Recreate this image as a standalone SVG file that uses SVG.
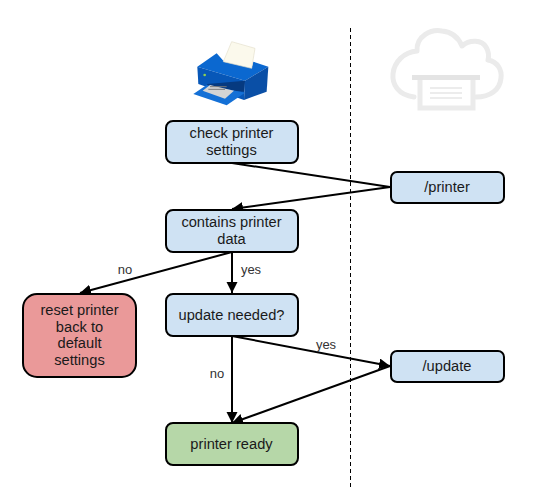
<svg xmlns="http://www.w3.org/2000/svg" width="549" height="500" viewBox="0 0 549 500">
<defs>
<style>
.n{stroke:#000;stroke-width:2}
.b{fill:#cfe2f3}
text{font-family:"Liberation Sans",Arial,sans-serif;font-size:14.67px;fill:#1a1a1a;text-anchor:middle}
.l{font-size:13px;fill:#333}
.c{fill:none;stroke:#000;stroke-width:2}
.a{marker-end:url(#ah)}
.cl{fill:none;stroke:#ebebeb;stroke-width:5;stroke-linejoin:round;stroke-linecap:round}
</style>
<marker id="ah" markerUnits="userSpaceOnUse" markerWidth="12" markerHeight="12" refX="11" refY="5.500" orient="auto"><path d="M0 0L11 5.500L0 11Z" fill="#000"/></marker>
</defs>
<rect width="549" height="500" fill="#fff"/>
<g id="printer-icon" transform="translate(170 20) scale(.3333)">
<path d="M82 140L140 100L160 122L245 143L250 125L295 140L225 182Z" fill="#0b68d0"/>
<path d="M82 140L225 182L222 240L85 192Z" fill="#0757b8"/>
<path d="M225 182L295 140L290 215L222 240Z" fill="#0a4fa6"/>
<path d="M112 192L225 182L222 215L110 205Z" fill="#063a80"/>
<path d="M70 222L110 195L225 218L170 256Z" fill="#1470d6"/>
<path d="M98 212L120 195L192 212L165 236Z" fill="#d4d4d4"/>
<path d="M120 200H170M115 208H165" stroke="#777" stroke-width="3" fill="none"/>
<path d="M185 65L255 85L245 145L160 125Z" fill="#fbf9ec" stroke="#e4e0cc" stroke-width="2"/>
<circle cx="104" cy="165" r="4" fill="#8fd14f"/>
</g>
<g id="cloud-icon">
<path class="cl" d="M414 97C398 95 392 84 393 74C394 62 404 52 417 51C416 36 431 29 442 31C453 32 459 39 462 46C470 39 482 40 486 47C489 52 489 56 488 60C498 62 502 70 501 78C500 90 490 97 476 97"/>
<path d="M412 75H480V80H412Z" fill="#e4e4e4"/>
<path d="M420 80V108H473V80" fill="#fff" stroke="#ebebeb" stroke-width="5"/>
<path d="M430 88H462M430 93H462M430 98H462" stroke="#e6e6e6" stroke-width="1.500" fill="none"/>
</g>
<g id="divider"><path d="M350.500 28V490" stroke="#000" stroke-width="1" stroke-dasharray="4 3" fill="none"/></g>
<g id="connectors">
<path class="c" d="M232 163L390 187"/>
<path class="c a" d="M390 187L232 209"/>
<path class="c a" d="M232 252L80 293"/>
<path class="c a" d="M232 252V293"/>
<path class="c a" d="M232 336L390 366"/>
<path class="c a" d="M232 336V423"/>
<path class="c a" d="M390 366L232 423"/>
</g>
<g id="edge-labels">
<text class="l" x="125" y="274">no</text>
<text class="l" x="251" y="274">yes</text>
<text class="l" x="217" y="378">no</text>
<text class="l" x="326" y="349">yes</text>
</g>
<g id="check-printer"><rect class="n b" x="166" y="121" width="132" height="42" rx="7"/><text x="231.500" y="138">check printer</text><text x="231.500" y="155">settings</text></g>
<g id="printer-api"><rect class="n b" x="391" y="172" width="113" height="31" rx="6"/><text x="447" y="192">/printer</text></g>
<g id="contains-data"><rect class="n b" x="166" y="210" width="132" height="42" rx="7"/><text x="231.500" y="227">contains printer</text><text x="231.500" y="244">data</text></g>
<g id="reset-printer"><rect class="n" fill="#ea9999" x="23" y="294" width="113" height="83" rx="14"/><text x="79.500" y="315">reset printer</text><text x="79.500" y="332">back to</text><text x="79.500" y="348">default</text><text x="79.500" y="365">settings</text></g>
<g id="update-needed"><rect class="n b" x="166" y="294" width="132" height="42" rx="7"/><text x="231.500" y="320">update needed?</text></g>
<g id="update-api"><rect class="n b" x="391" y="351" width="113" height="31" rx="6"/><text x="447" y="371">/update</text></g>
<g id="printer-ready"><rect class="n" fill="#b6d7a8" x="166" y="423" width="132" height="42" rx="7"/><text x="231.500" y="449">printer ready</text></g>
</svg>
